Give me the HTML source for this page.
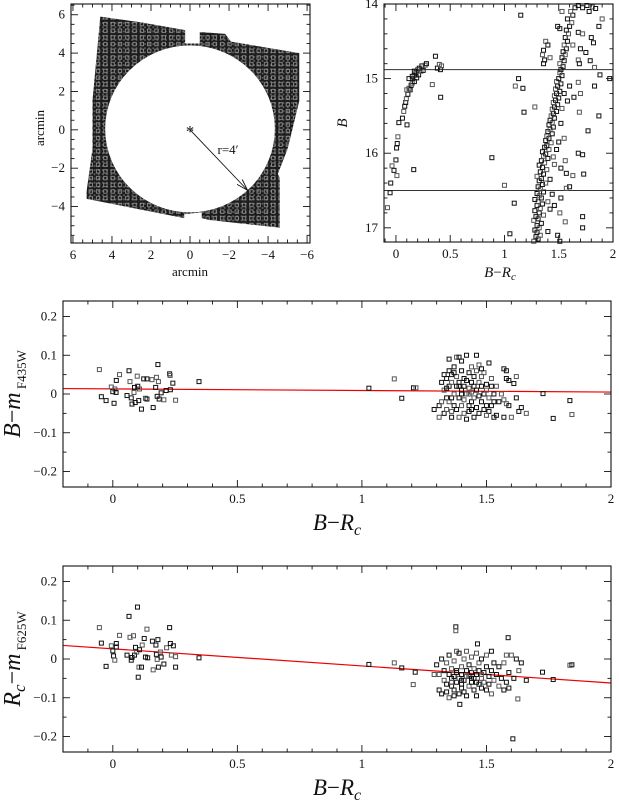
<!DOCTYPE html>
<html><head><meta charset="utf-8">
<style>
html,body{margin:0;padding:0;background:#fff;}
svg{display:block;font-family:"Liberation Serif",serif;}
.tk{font-size:13px;fill:#111;}
</style></head>
<body>
<svg id="fig" width="619" height="803" viewBox="0 0 619 803" xmlns="http://www.w3.org/2000/svg">
<defs>
<pattern id="sq" width="4.2" height="4.2" patternUnits="userSpaceOnUse">
<rect x="0" y="0" width="4.2" height="4.2" fill="#5e5e5e"/>
<rect x="0.6" y="0.6" width="3" height="3" fill="none" stroke="#0d0d0d" stroke-width="1"/>
</pattern>
<pattern id="sq2" width="7.3" height="6.7" patternUnits="userSpaceOnUse">
<rect x="1.5" y="2.2" width="3.4" height="3.4" fill="none" stroke="#9a9a9a" stroke-width="0.8"/>
</pattern>
</defs>
<g id="root"></g>
</svg>
<script>
// ---------- data ----------
const fieldOuterX=[4.6,2.5,0.25,0.25,-0.5,-0.5,-1.8,-2.1,-5.6,-5.6,-5.0,-4.5,-4.6,-4.6,-1.0,-0.6,-0.6,0.3,0.3,5.3,5.3,5.0,5.0,4.6];
const fieldOuterY=[5.9,5.6,5.2,4.5,4.5,5.1,5.0,4.6,4.0,1.5,-1.0,-2.3,-2.5,-5.1,-4.7,-4.6,-4.3,-4.4,-4.6,-3.6,-3.2,-1.0,1.5,5.9];
const holeR=[4.35];
const arrowTip=[-2.95,-3.15];

const hbC=[-0.078,-0.054,-0.048,-0.036,-0.018,0,0.009,0.006,0.012,0.018,0.027,0.06,0.072,0.081,0.09,0.096,0.102,0.11,0.12,0.131,0.14,0.15,0.155,0.17,0.167,0.185,0.191,0.2,0.209,0.215,0.23,0.239,0.251,0.269,0.281,0.164,0.335,0.364,0.382,0.4,0.41,0.412,0.42,0.12,0.17,0.10,0.15,0.884,1.0,1.15,1.13,1.1,1.17,1.18,1.28,1.09,1.05];
const hbB=[16.73,16.53,16.4,16.17,16.23,16.09,16.3,15.93,15.87,15.78,15.59,15.53,15.44,15.37,15.32,15.27,15.62,15.21,15.13,15.15,15.09,15.06,15.0,15.04,14.96,14.92,14.99,14.88,14.95,14.86,14.9,14.83,14.89,14.82,14.8,16.22,15.08,14.7,14.86,14.81,14.88,15.25,14.83,15.0,14.9,15.15,14.97,16.06,16.43,14.15,15.0,15.1,15.13,15.45,15.38,16.67,17.08];
const rgbB=[17.18,17.15,17.12,17.1,17.06,17.03,17.0,16.97,16.94,16.9,16.88,16.85,16.83,16.8,16.77,16.74,16.7,16.68,16.65,16.62,16.6,16.57,16.54,16.52,16.48,16.45,16.42,16.4,16.37,16.34,16.31,16.28,16.25,16.22,16.19,16.16,16.13,16.1,16.07,16.04,16.01,15.98,15.95,15.92,15.9,15.86,15.83,15.8,15.77,15.74,15.71,15.68,15.65,15.62,15.59,15.56,15.53,15.5,15.47,15.44,15.41,15.38,15.35,15.32,15.29,15.26,15.23,15.2,15.17,15.14,15.1,15.07,15.04,15.0,14.96,14.92,14.88,14.84,14.8,14.76,14.72,14.68,14.64,14.6,14.55,14.5,14.45,14.4,14.35,14.3,14.25,14.2,14.15,14.1,14.05,14.02,
14.1,14.3,14.33,14.5,14.55,14.62,14.68,14.75,14.8,14.72,14.05,14.02,14.04,14.06,14.1,14.2,14.3,14.38,14.4,14.45,14.52,14.55,14.6,14.65,14.75,14.76,14.8,14.85,14.95,15.0,15.05,15.1,15.1,15.2,15.25,15.3,15.45,15.5,15.7,15.8,16.0,16.02,16.1,16.2,16.27,16.3,16.28,16.45,16.47,16.6,16.7,16.8,16.85,17.0,16.92,17.1,17.18,16.65,16.55,16.35,16.05,15.85,15.6,15.4,15.2,15.95,16.15,16.75,17.05];
const rgbC=[1.27,1.31,1.29,1.33,1.30,1.28,1.32,1.30,1.34,1.27,1.31,1.29,1.36,1.32,1.28,1.33,1.30,1.35,1.31,1.28,1.34,1.32,1.30,1.36,1.33,1.31,1.35,1.38,1.32,1.34,1.30,1.36,1.33,1.39,1.35,1.32,1.37,1.34,1.40,1.36,1.38,1.35,1.41,1.37,1.39,1.43,1.38,1.41,1.39,1.44,1.40,1.42,1.45,1.41,1.44,1.42,1.46,1.43,1.45,1.48,1.44,1.46,1.49,1.45,1.47,1.50,1.46,1.48,1.51,1.47,1.49,1.52,1.48,1.50,1.53,1.51,1.52,1.54,1.51,1.55,1.53,1.56,1.54,1.57,1.55,1.58,1.56,1.59,1.57,1.60,1.62,1.58,1.63,1.61,1.65,1.68,
1.53,1.49,1.51,1.38,1.40,1.36,1.35,1.37,1.36,1.42,1.72,1.76,1.81,1.84,1.78,1.90,1.87,1.68,1.72,1.80,1.82,1.63,1.70,1.75,1.68,1.79,1.69,1.83,1.88,1.97,1.68,1.60,1.83,1.70,1.64,1.58,1.69,1.87,1.77,1.55,1.68,1.72,1.56,1.52,1.57,1.63,1.73,1.60,1.57,1.52,1.46,1.51,1.72,1.72,1.56,1.49,1.51,1.40,1.44,1.42,1.45,1.50,1.52,1.53,1.55,1.48,1.46,1.42,1.40];
const cutLines=[14.88,16.5];

const midC=[-0.054,-0.046,-0.027,-0.006,0,0.005,0.008,0.013,0.014,0.027,0.057,0.065,0.069,0.074,0.077,0.085,0.087,0.09,0.098,0.1,0.104,0.107,0.115,0.124,0.131,0.137,0.137,0.157,0.162,0.172,0.175,0.178,0.181,0.183,0.186,0.194,0.205,0.214,0.228,0.23,0.231,0.241,0.252,0.346,
1.028,1.13,1.16,1.207,1.217,1.727,1.835,1.843,1.768,
1.29,1.31,1.31,1.32,1.32,1.33,1.33,1.33,1.34,1.34,1.34,1.35,1.35,1.35,1.35,1.36,1.36,1.36,1.36,1.37,1.37,1.37,1.38,1.38,1.38,1.38,1.39,1.39,1.39,1.39,1.40,1.40,1.40,1.40,1.41,1.41,1.41,1.41,1.42,1.42,1.42,1.42,1.43,1.43,1.43,1.43,1.44,1.44,1.44,1.44,1.45,1.45,1.45,1.45,1.46,1.46,1.46,1.46,1.47,1.47,1.47,1.47,1.48,1.48,1.48,1.49,1.49,1.49,1.50,1.50,1.50,1.51,1.51,1.51,1.52,1.52,1.52,1.53,1.53,1.54,1.54,1.55,1.56,1.57,1.57,1.57,1.58,1.58,1.58,1.59,1.59,1.60,1.61,1.62,1.62,1.63,1.64,1.66,1.37,1.40,1.43,1.39,1.34,1.36,1.44,1.48,1.50,1.53];
const midV=[0.063,-0.007,-0.017,0.018,0.006,-0.024,0.013,0.004,0.035,0.05,-0.004,0.06,0.032,-0.01,-0.026,0.004,0.017,-0.022,0.046,0.02,-0.017,0.013,-0.039,0.039,-0.011,0.039,-0.013,0.037,-0.035,0.017,0.043,-0.006,0.076,0.032,-0.013,0.003,-0.015,0.009,0.052,0.048,0.011,0.028,-0.016,0.032,
0.015,0.039,-0.011,0.016,0.016,0.001,-0.017,-0.053,-0.063,
-0.04,-0.06,-0.03,0.03,-0.02,0.05,-0.05,0.01,-0.01,0.04,-0.04,0.06,0.02,-0.02,0.09,-0.06,0.03,-0.01,0.05,0.0,-0.03,0.07,0.095,0.02,-0.04,0.045,-0.01,0.03,-0.06,0.095,0.01,-0.03,0.06,0.085,-0.05,0.02,0.04,-0.015,0.1,-0.065,0.0,0.035,-0.03,0.015,0.055,-0.045,0.07,-0.02,0.03,0.005,-0.06,0.045,-0.01,0.02,0.1,0.06,-0.035,0.01,0.075,-0.005,-0.05,0.03,0.02,-0.02,0.045,-0.04,0.0,0.055,-0.03,0.025,0.01,0.08,-0.045,-0.01,0.02,-0.03,0.04,0.0,-0.02,0.02,-0.055,-0.02,0.0,0.065,-0.06,-0.015,0.06,0.04,-0.025,-0.03,0.035,-0.06,0.027,-0.01,0.045,-0.045,-0.035,-0.05,0.055,0.0,0.0,0.02,0.015,-0.045,-0.04,0.065,-0.055,-0.06];
const midFit=[0.014,0.005];

const botC=[-0.054,-0.046,-0.027,-0.006,0,0.003,0.008,0.014,0.014,0.027,0.057,0.065,0.069,0.074,0.077,0.083,0.087,0.091,0.096,0.099,0.102,0.105,0.107,0.115,0.118,0.126,0.131,0.137,0.14,0.159,0.162,0.173,0.175,0.178,0.181,0.183,0.191,0.194,0.205,0.216,0.228,0.231,0.235,0.243,0.252,0.252,0.346,
1.028,1.13,1.16,1.214,1.206,1.725,1.768,1.835,1.843,1.606,1.626,1.587,1.377,1.377,1.464,1.393,
1.29,1.30,1.31,1.31,1.32,1.32,1.33,1.33,1.34,1.34,1.34,1.35,1.35,1.35,1.36,1.36,1.36,1.37,1.37,1.37,1.38,1.38,1.38,1.39,1.39,1.39,1.40,1.40,1.40,1.41,1.41,1.41,1.42,1.42,1.42,1.43,1.43,1.43,1.44,1.44,1.44,1.45,1.45,1.45,1.46,1.46,1.46,1.47,1.47,1.47,1.48,1.48,1.48,1.49,1.49,1.50,1.50,1.50,1.51,1.51,1.52,1.52,1.52,1.53,1.53,1.54,1.55,1.55,1.56,1.57,1.57,1.58,1.58,1.59,1.59,1.60,1.61,1.62,1.63,1.64,1.66,1.36,1.38,1.40,1.42,1.44,1.46,1.48,1.40,1.37];
const botV=[0.081,0.041,-0.019,0.034,0.021,0.008,-0.003,0.04,0.031,0.061,0.01,0.11,0.056,-0.003,0.004,0.06,0.01,0.03,0.018,0.134,-0.047,-0.021,0.024,-0.021,0.036,0.053,0.005,0.077,0.003,0.046,-0.028,0.036,0.012,-0.001,0.05,-0.021,0.018,0.005,-0.013,0.029,0.081,0.04,0.01,0.034,-0.021,0.006,0.003,
-0.014,-0.01,-0.023,-0.034,-0.066,-0.034,-0.053,-0.016,-0.015,-0.206,-0.103,0.055,0.083,0.073,0.039,-0.117,
-0.04,-0.015,-0.08,-0.04,-0.09,0.0,-0.055,-0.03,-0.085,-0.01,-0.065,-0.04,-0.1,0.01,-0.07,-0.025,-0.05,-0.08,-0.005,-0.045,-0.06,0.02,-0.03,-0.09,-0.05,0.015,-0.065,-0.02,-0.04,-0.085,0.0,-0.055,-0.03,0.02,-0.095,-0.045,-0.07,-0.015,-0.06,0.005,-0.035,-0.08,-0.025,-0.05,-0.095,0.015,-0.04,-0.065,-0.01,-0.03,-0.075,-0.05,0.0,-0.035,-0.06,-0.02,-0.08,0.01,-0.045,-0.065,-0.09,-0.03,0.02,-0.055,-0.01,-0.04,-0.07,-0.02,-0.05,-0.01,-0.08,-0.06,0.01,-0.035,-0.075,0.01,-0.05,0.0,-0.03,-0.01,-0.055,-0.06,-0.035,-0.055,-0.045,-0.05,-0.06,-0.04,-0.075,-0.095];
const botFit=[0.035,-0.062];

// ---------- helpers ----------
const NS="http://www.w3.org/2000/svg";
const root=document.getElementById('root');
function mk(tag,attrs,parent){const e=document.createElementNS(NS,tag);for(const k in attrs)e.setAttribute(k,attrs[k]);(parent||root).appendChild(e);return e;}
function txt(x,y,s,cls,anchor,parent){const t=mk('text',{x:x,y:y,'class':cls||'tk','text-anchor':anchor||'middle'},parent);t.textContent=s;return t;}

function panel(name,L,R,T,B,xmin,xmax,ymin,ymax,yInv){
  const g=mk('g',{});
  
  
  const sx=v=>L+(v-xmin)/(xmax-xmin)*(R-L);
  const sy=yInv? (v=>T+(v-ymin)/(ymax-ymin)*(B-T)) : (v=>B-(v-ymin)/(ymax-ymin)*(B-T));
  return {g,sx,sy,L,R,T,B};
}
function frame(p){
  const r=mk('rect',{x:p.L,y:p.T,width:p.R-p.L,height:p.B-p.T,fill:'none',stroke:'#111','stroke-width':1.1},p.g);
  
  
}
function xTicks(p,from,to,minor,major,labels,fmt){
  const tg=mk('g',{},p.g);
  
  
  const n=Math.round((to-from)/minor);
  for(let i=0;i<=n;i++){const v=from+i*minor;const X=p.sx(v);if(X<p.L-0.5||X>p.R+0.5)continue;
    const isM=Math.abs(v/major-Math.round(v/major))<1e-6;const len=isM?7:3.5;
    mk('line',{x1:X,x2:X,y1:p.B,y2:p.B-len,stroke:'#111','stroke-width':0.9},tg);
    mk('line',{x1:X,x2:X,y1:p.T,y2:p.T+len,stroke:'#111','stroke-width':0.9},tg);}
  labels.forEach(v=>{const t=txt(p.sx(v),p.B+16,fmt(v),'tk','middle',tg);
    
    });
}
function yTicks(p,from,to,minor,major,labels,fmt){
  const tg=mk('g',{},p.g);
  
  
  const n=Math.round((to-from)/minor);
  for(let i=0;i<=n;i++){const v=from+i*minor;const Y=p.sy(v);if(Y<p.T-0.5||Y>p.B+0.5)continue;
    const isM=Math.abs(v/major-Math.round(v/major))<1e-6;const len=isM?7:3.5;
    mk('line',{x1:p.L,x2:p.L+len,y1:Y,y2:Y,stroke:'#111','stroke-width':0.9},tg);
    mk('line',{x1:p.R,x2:p.R-len,y1:Y,y2:Y,stroke:'#111','stroke-width':0.9},tg);}
  labels.forEach(v=>{const t=txt(p.L-6,p.sy(v)+4,fmt(v),'tk','end',tg);
    
    });
}
function squares(p,xs,ys,name){
  const sg=mk('g',{},p.g);
  
  
  for(let i=0;i<xs.length;i++){const X=p.sx(xs[i]),Y=p.sy(ys[i]);
    if(X<p.L||X>p.R||Y<p.T||Y>p.B)continue;
    const r=mk('rect',{x:X-2,y:Y-2,width:4,height:4,fill:'none',stroke:(i%3==0?'#555':'#111'),'stroke-width':1},sg);
    
    }
}
const fmtS=v=>{let s=(Math.abs(v)<1e-9?'0':String(+v.toFixed(2)));return s.replace('-','\u2212');};

// ---------- Panel 1: field ----------
const p1=panel('field-map-panel',71,310,4,243,6.1,-6.15,-5.9,6.56,false);
(function(){
  let d='';
  for(let i=0;i<fieldOuterX.length;i++){d+=(i?'L':'M')+p1.sx(fieldOuterX[i])+' '+p1.sy(fieldOuterY[i]);}
  d+='Z';
  const cx=p1.sx(0),cy=p1.sy(0.05),rx=Math.abs(p1.sx(holeR[0])-p1.sx(0)),ry=Math.abs(p1.sy(holeR[0])-p1.sy(0));
  d+=`M${cx-rx} ${cy}A${rx} ${ry} 0 1 0 ${cx+rx} ${cy}A${rx} ${ry} 0 1 0 ${cx-rx} ${cy}Z`;
  const f=mk('path',{d:d,fill:'url(#sq)','fill-rule':'evenodd'},p1.g);
  
  
  const f2=mk('path',{d:d,fill:'url(#sq2)','fill-rule':'evenodd'},p1.g);
  
  
  const sx0=p1.sx(0),sy0=p1.sy(0);
  const st=mk('text',{x:sx0,y:sy0+7,'font-size':'17','text-anchor':'middle',fill:'#111'},p1.g);
  st.textContent='*';
  
  
  const ax=p1.sx(arrowTip[0]),ay=p1.sy(arrowTip[1]);
  const ar=mk('g',{},p1.g);
  
  
  mk('line',{x1:sx0,y1:sy0,x2:ax,y2:ay,stroke:'#111','stroke-width':0.9},ar);
  const ang=Math.atan2(ay-sy0,ax-sx0);
  const a1=ang+Math.PI-0.3,a2=ang+Math.PI+0.3;
  mk('path',{d:`M${ax+12*Math.cos(a1)} ${ay+12*Math.sin(a1)}L${ax} ${ay}L${ax+12*Math.cos(a2)} ${ay+12*Math.sin(a2)}`,fill:'none',stroke:'#111','stroke-width':0.9},ar);
  const rl=txt(228,154,'r=4\u2032','tk','middle',p1.g);
  
  
})();
frame(p1);
xTicks(p1,-6,6,0.5,2,[6,4,2,0,-2,-4,-6],fmtS);
yTicks(p1,-6,7,0.5,2,[6,4,2,0,-2,-4],fmtS);
(function(){
  const t=txt(190,276,'arcmin','tk','middle',p1.g);t.setAttribute('font-size','16');
  
  
  const y=txt(0,0,'arcmin','tk','middle',p1.g);y.setAttribute('font-size','16');
  y.setAttribute('transform','translate(44,128) rotate(-90)');
  
  
})();

// ---------- Panel 2: CMD ----------
const p2=panel('cmd-panel',384,613,4,242,-0.11,2.0,14.0,17.19,true);
cutLines.forEach(b=>{const l=mk('line',{x1:p2.L,x2:p2.R,y1:p2.sy(b),y2:p2.sy(b),stroke:'#333','stroke-width':1},p2.g);
  
  });
squares(p2,hbC,hbB,'horizontal-branch-points');
squares(p2,rgbC,rgbB,'red-giant-branch-points');
frame(p2);
xTicks(p2,-0.1,2,0.1,0.5,[0,0.5,1,1.5,2],fmtS);
yTicks(p2,14,17.2,0.2,1,[14,15,16,17],fmtS);
(function(){
  const y=mk('text',{x:0,y:0,'font-size':'15','font-style':'italic','text-anchor':'middle',fill:'#111',transform:'translate(347,123) rotate(-90)'},p2.g);
  y.textContent='B';
  
  
  const x=mk('text',{x:500,y:277,'font-size':'15','text-anchor':'middle',fill:'#111'},p2.g);
  x.innerHTML='<tspan font-style="italic">B</tspan>\u2212<tspan font-style="italic">R</tspan><tspan font-style="italic" font-size="11" dy="3">c</tspan>';
  
  
})();

// ---------- Panel 3 & 4 ----------
function resid(name,T,B,cs,vs,fit,ytitleMain,ytitleSub,ytitleX,xtitleY){
  const p=panel(name,63,611,T,B,-0.2,2.0,-0.24,0.24,false);
  const fl=mk('line',{x1:p.sx(-0.2),y1:p.sy(fit[0]),x2:p.sx(2.0),y2:p.sy(fit[1]),stroke:'#e00','stroke-width':1.2},p.g);
  
  
  squares(p,cs,vs,'residual-points');
  frame(p);
  xTicks(p,-0.2,2,0.1,0.5,[0,0.5,1,1.5,2],fmtS);
  yTicks(p,-0.25,0.25,0.05,0.1,[0.2,0.1,0,-0.1,-0.2],fmtS);
  const x=mk('text',{x:337,y:xtitleY,'font-size':'23','text-anchor':'middle',fill:'#111'},p.g);
  x.innerHTML='<tspan font-style="italic">B</tspan>\u2212<tspan font-style="italic">R</tspan><tspan font-style="italic" font-size="16" dy="5">c</tspan>';
  
  
  const y=mk('text',{x:0,y:0,'font-size':'24','text-anchor':'middle',fill:'#111',transform:`translate(${ytitleX},${(T+B)/2}) rotate(-90)`},p.g);
  y.innerHTML=ytitleMain+'<tspan font-size="13" dy="6"> '+ytitleSub+'</tspan>';
  
  
}
resid('b-residual-panel',301,487,midC,midV,midFit,'<tspan font-style="italic">B</tspan>\u2212<tspan font-style="italic">m</tspan>','F435W',20,530);
resid('r-residual-panel',566,752,botC,botV,botFit,'<tspan font-style="italic">R</tspan><tspan font-style="italic" font-size="17" dy="5">c</tspan><tspan dy="-5">\u2212</tspan><tspan font-style="italic">m</tspan>','F625W',20,795);
</script>
</body></html>
